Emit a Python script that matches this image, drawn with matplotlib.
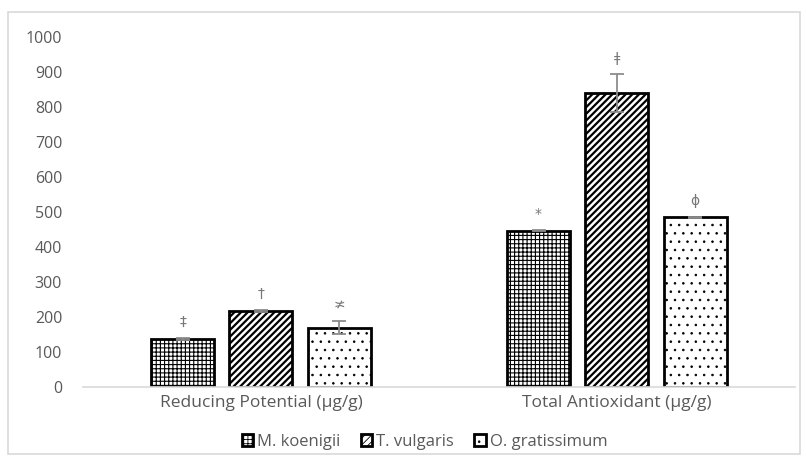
import matplotlib
matplotlib.use("Agg")
import matplotlib.pyplot as plt
import numpy as np
from matplotlib.patches import Rectangle

# data
categories = ["Reducing Potential (\u00b5g/g)", "Total Antioxidant (\u00b5g/g)"]
species = ["M. koenigii", "T. vulgaris", "O. gratissimum"]
m_koenigii = [137, 447]
t_vulgaris = [218, 840]
o_gratissimum = [170, 485]
m_err = [4, 2]
t_err = [3, 55]
o_err = [18, 2]
m_marks = ["\u2021", "*"]
t_marks = ["\u2020", "\u01c2"]
o_marks = ["\u226d", "\u0278"]
yticks = list(range(0, 1001, 100))

plt.rcParams['font.family'] = ['Open Sans', 'DejaVu Sans']
text_grey = '#595959'

fig = plt.figure(figsize=(8.06, 4.68), dpi=100)
ax = fig.add_axes([0.103, 0.173, 0.883, 0.748])

# outer chart-area frame
fig.patches.append(Rectangle((0.010, 0.030), 0.982, 0.944, transform=fig.transFigure,
                             fill=False, edgecolor='#d9d9d9', linewidth=1.2))

x = np.arange(len(categories))
width = 0.177
step = 0.22

series = [
    (m_koenigii, m_err, m_marks, '++++', 0.8, 'black'),
    (t_vulgaris, t_err, t_marks, '/////', 1.6, 'black'),
    (o_gratissimum, o_err, o_marks, '..', 0.6, '#7a7a7a'),
]

for i, (vals, errs, marks, hatch, hlw, hcol) in enumerate(series):
    pos = x + (i - 1) * step
    plt.rcParams['hatch.linewidth'] = hlw
    plt.rcParams['hatch.color'] = hcol
    ax.bar(pos, vals, width, color='white', edgecolor='black', linewidth=2,
           hatch=hatch, label=species[i], zorder=2)
    ax.errorbar(pos, vals, yerr=errs, fmt='none', ecolor='#8c8c8c',
                elinewidth=1.3, capsize=5, capthick=1.3, zorder=3)
    for p, v, e, mk in zip(pos, vals, errs, marks):
        ax.text(p, v + e + 45, mk, ha='center', va='center', fontsize=10,
                color='#777777', family=['DejaVu Sans'])

ax.set_ylim(0, 1000)
ax.set_xlim(-0.5, 1.5)
ax.set_yticks(yticks)
ax.set_xticks(x)
ax.set_xticklabels(categories)
ax.tick_params(axis='y', length=0, labelsize=11.5, labelcolor=text_grey, pad=15)
ax.tick_params(axis='x', length=0, labelsize=12.5, labelcolor=text_grey, pad=6)
for s in ['top', 'right', 'left']:
    ax.spines[s].set_visible(False)
ax.spines['bottom'].set_color('#d9d9d9')
ax.spines['bottom'].set_linewidth(1.2)

leg = ax.legend(loc='upper center', bbox_to_anchor=(0.48, -0.09), ncol=3,
                frameon=False, fontsize=12, handlelength=0.7, handleheight=0.7,
                handletextpad=0.25, columnspacing=1.2)
for t in leg.get_texts():
    t.set_color(text_grey)

fig.savefig("out.png", dpi=100, facecolor='white')
